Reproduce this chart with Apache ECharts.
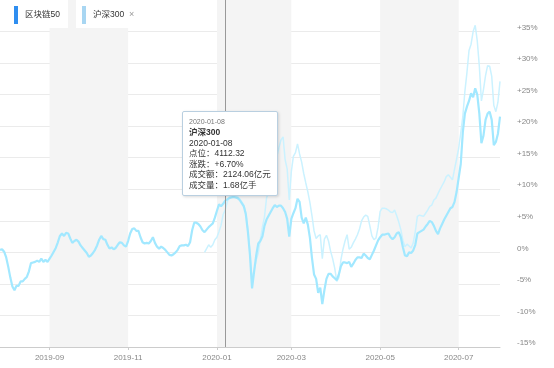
<!DOCTYPE html>
<html><head><meta charset="utf-8">
<script src="https://cdn.jsdelivr.net/npm/echarts@6/dist/echarts.min.js"></script>
<style>html,body{margin:0;padding:0;background:#fff}#c{width:554px;height:368px}</style>
</head><body><div id="c"></div>
<script>
// ---- data ----
const seriesNames = ['区块链50', '沪深300'];
const startDate = '2019-07-30';
const endDate = '2020-07-29';
const holidays = ['2019-09-13','2019-10-01','2019-10-02','2019-10-03','2019-10-04','2019-10-07',
  '2020-01-01','2020-01-24','2020-01-27','2020-01-28','2020-01-29','2020-01-30','2020-01-31',
  '2020-04-06','2020-05-01','2020-05-04','2020-05-05','2020-06-25','2020-06-26'];
function tradingDays() {
  const out = [];
  let d = new Date(startDate + 'T00:00:00Z');
  const end = new Date(endDate + 'T00:00:00Z');
  while (d <= end) {
    const s = d.toISOString().slice(0, 10);
    const wd = d.getUTCDay();
    if (wd !== 0 && wd !== 6 && holidays.indexOf(s) < 0) out.push(s);
    d = new Date(d.getTime() + 86400000);
  }
  return out;
}
const categories = tradingDays();

const blockchain50 = [
 0.4,0.5,0.1,-0.8,-2.3,-4.0,-5.4,-6.0,-5.3,-5.3,
 -4.6,-4.6,-4.2,-3.9,-3.0,-1.7,-1.6,-1.5,-1.3,-1.5,
 -1.0,-1.5,-1.2,-1.5,-1.0,-0.5,0.1,0.7,1.6,2.6,
 3.0,2.6,3.1,3.0,2.2,1.5,1.8,2.0,1.7,1.1,
 0.7,0.3,-0.1,-0.7,-0.5,-0.1,0.4,1.1,2.0,2.6,
 2.1,2.0,1.2,0.6,0.8,0.5,0.7,1.2,1.6,1.5,
 1.1,0.9,1.8,3.0,3.7,3.8,3.4,3.4,2.4,1.6,
 1.4,1.5,1.4,1.8,2.4,1.5,0.9,0.6,0.9,0.7,
 0.4,0.0,-0.4,-0.5,-0.3,0.0,0.4,1.0,1.1,1.1,
 1.2,1.0,1.6,3.5,4.7,4.7,4.5,4.1,3.5,3.2,
 3.6,4.0,4.3,4.6,5.5,6.6,7.6,7.3,7.7,8.2,
 8.4,8.6,8.7,8.8,8.7,8.6,8.3,7.8,7.3,6.0,
 3.2,-0.5,-5.7,-3.0,-0.5,1.4,1.8,2.5,4.2,5.2,
 5.8,6.4,7.0,7.5,7.2,7.4,7.4,7.0,6.4,5.3,
 2.5,5.3,6.2,7.0,8.5,8.0,5.5,4.6,5.5,4.4,
 2.3,-0.9,-3.5,-4.2,-6.4,-5.6,-8.2,-6.0,-4.2,-3.4,
 -3.4,-3.8,-4.1,-4.4,-3.5,-2.2,-1.6,-1.6,-1.7,-1.5,
 -2.3,-1.8,-1.2,-0.8,-0.8,-0.9,-0.2,-0.5,-0.9,-1.1,
 -0.4,0.3,1.1,1.9,2.4,2.8,2.8,2.9,3.0,2.4,
 2.1,2.4,3.0,3.2,2.4,0.8,-0.5,-0.6,0.0,-0.1,
 0.3,1.2,3.0,3.2,3.4,3.6,4.1,4.5,5.0,4.8,
 4.2,3.4,2.9,3.8,4.5,5.2,5.8,6.4,7.0,7.2,
 8.0,9.6,11.8,14.0,19.0,22.0,23.1,24.0,25.2,24.6,
 26.0,25.0,22.0,17.3,18.5,21.0,22.0,22.3,21.0,17.0,
 17.5,18.8,21.5];

const hs300Start = '2019-12-24';
const hs300 = [
 0.0,
 0.6,1.2,0.8,1.2,2.0,2.4,3.3,4.3,6.0,6.7,
 8.0,8.8,8.9,9.0,8.9,8.8,8.5,8.0,7.5,6.3,
 3.5,0.0,-4.4,-2.8,-1.2,-0.1,2.0,4.0,5.6,8.6,
 9.5,10.6,12.5,13.5,15.2,16.6,17.8,18.3,14.7,13.2,
 8.3,12.8,15.2,15.8,17.2,15.6,14.3,12.5,11.0,9.6,
 7.9,5.8,3.4,2.2,2.6,2.8,-1.0,2.1,2.7,1.8,
 0.2,-1.0,-2.5,-4.6,-4.0,-1.2,0.5,1.8,2.8,0.5,
 0.8,1.5,2.1,2.8,3.7,5.0,5.6,5.9,5.7,4.2,
 2.6,2.0,2.3,4.0,6.5,7.0,7.0,6.9,6.7,6.4,
 6.3,6.7,5.8,4.8,3.6,1.9,0.9,1.3,1.0,0.7,
 1.5,3.3,5.7,5.9,5.8,5.7,6.2,6.7,7.3,7.5,
 8.3,8.6,9.3,10.0,10.6,11.2,12.0,12.3,11.9,11.5,
 13.2,14.8,16.5,18.9,21.5,25.5,28.5,32.0,33.0,35.0,
 36.0,33.5,29.5,24.0,25.8,28.0,29.6,29.5,27.9,23.3,
 22.3,23.8,27.1];

const yMin = -15, yMax = 40, yStep = 5;
const tipDate = '2020-01-08';
const tipSeries = '沪深300';
const tipLines = ['点位：4112.32', '涨跌：+6.70%', '成交额：2124.06亿元', '成交量：1.68亿手'];

// ---- chart ----
const FONT = 'Arial, "Liberation Sans", "Noto Sans CJK SC", sans-serif';
const hsOffset = categories.indexOf(hs300Start);
const hsData = hs300.map((v, k) => [categories[hsOffset + k], v]);

function isTick(idx) {
  if (idx <= 0) return false;
  const m = categories[idx].slice(5, 7), pm = categories[idx - 1].slice(5, 7);
  return m !== pm && parseInt(m, 10) % 2 === 1;
}

const chart = echarts.init(document.getElementById('c'), null, {renderer: 'canvas'});
chart.setOption({
  animation: false,
  textStyle: {fontFamily: FONT},
  grid: {left: 0, right: 54, top: 0, bottom: 21, containLabel: false},
  legend: [
    {
      data: [{name: seriesNames[0], itemStyle: {color: '#2f8ef0', borderWidth: 0}}],
      left: 8, top: 0, icon: 'rect', itemWidth: 4, itemHeight: 18,
      padding: [6, 8, 4, 6], backgroundColor: '#fff', selectedMode: false,
      itemStyle: {borderWidth: 0},
      textStyle: {fontSize: 8.5, color: '#333', fontFamily: FONT, padding: [0, 0, 0, 2]}
    },
    {
      data: [{name: seriesNames[1], itemStyle: {color: '#a8d6f2', borderWidth: 0}}],
      left: 76, top: 0, icon: 'rect', itemWidth: 4, itemHeight: 18,
      padding: [6, 6, 4, 6], backgroundColor: '#fff', selectedMode: false,
      itemStyle: {borderWidth: 0},
      formatter: n => n + '  {x|×}',
      textStyle: {fontSize: 8.5, color: '#333', fontFamily: FONT, padding: [0, 0, 0, 2],
        rich: {x: {color: '#999', fontSize: 9}}}
    }
  ],
  tooltip: {
    trigger: 'axis',
    alwaysShowContent: true,
    transitionDuration: 0,
    position: [182, 111],
    backgroundColor: '#fff',
    borderColor: '#b9cfe0',
    borderWidth: 1,
    padding: [5, 6],
    extraCssText: 'box-shadow:1px 1px 3px rgba(0,0,0,0.15);border-radius:2px;',
    axisPointer: {type: 'line', animation: false, lineStyle: {color: '#999', width: 1, type: 'solid'}},
    formatter: function () {
      let h = '<div style="font-family:' + FONT.replace(/"/g, "'") + ';color:#333;font-size:8.5px;line-height:10.5px;">';
      h += '<div style="font-size:7px;color:#777;line-height:10px;">' + tipDate + '</div>';
      h += '<div style="font-weight:bold;">' + tipSeries + '</div>';
      h += '<div>' + tipDate + '</div>';
      tipLines.forEach(l => { h += '<div>' + l + '</div>'; });
      return h + '</div>';
    }
  },
  xAxis: {
    type: 'category',
    data: categories,
    boundaryGap: false,
    axisLine: {onZero: false, lineStyle: {color: '#ccc'}},
    axisTick: {interval: isTick, length: 3, lineStyle: {color: '#ccc'}},
    axisLabel: {interval: isTick, formatter: v => v.slice(0, 7), color: '#888', fontSize: 8, margin: 7, fontFamily: FONT},
    splitLine: {show: false},
    splitArea: {show: true, interval: isTick, areaStyle: {color: ['#f4f4f4', 'rgba(255,255,255,0)']}}
  },
  yAxis: {
    type: 'value',
    position: 'right',
    min: yMin, max: yMax, interval: yStep,
    axisLine: {show: false},
    axisTick: {show: false},
    axisLabel: {
      showMaxLabel: false,
      formatter: v => (v > 0 ? '+' + v + '%' : v + '%'),
      color: '#888', fontSize: 8, margin: 17, verticalAlign: 'bottom', fontFamily: FONT
    },
    splitLine: {showMaxLine: false, lineStyle: {color: '#ebebeb'}}
  },
  series: [
    {
      name: seriesNames[0], type: 'line', data: blockchain50, symbol: 'none', z: 3,
      lineStyle: {width: 2.2, color: '#94d3f4'}, itemStyle: {color: '#94d3f4'}
    },
    {
      name: seriesNames[1], type: 'line', data: hsData, symbol: 'none', z: 2,
      lineStyle: {width: 1.5, color: '#b9dcf2'}, itemStyle: {color: '#b9dcf2'}
    }
  ]
});
const px = chart.convertToPixel({xAxisIndex: 0}, tipDate);
chart.dispatchAction({type: 'showTip', x: px, y: 200});
</script>
</body></html>
